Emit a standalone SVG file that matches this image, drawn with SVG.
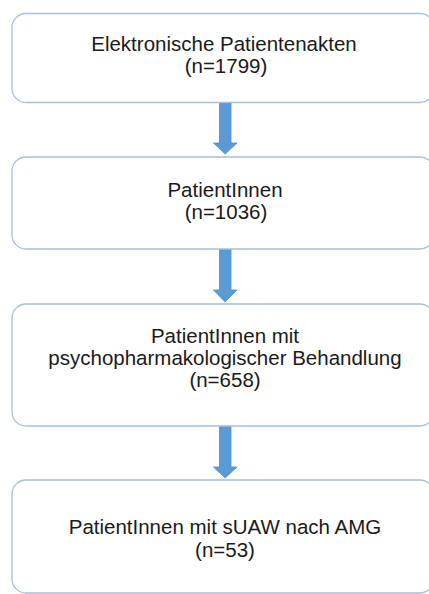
<svg xmlns="http://www.w3.org/2000/svg" width="429" height="594" viewBox="0 0 429 594">
<style>
.box{fill:#ffffff;stroke:#a7bfdc;stroke-width:1.3}
.t{font-family:"Liberation Sans",Arial,sans-serif;font-size:20.5px;fill:#1a1a1a;text-anchor:middle}
.arr{fill:#5b9bd5;stroke:#4f8cc6;stroke-width:0.8}
</style>
<rect width="429" height="594" fill="#ffffff"/>
<g id="connectors">
<path class="arr" d="M219.5 103 H231 V143 H237 L225.2 154 L213.5 143 H219.5 Z"/>
<path class="arr" d="M219.5 249 H231 V290 H237 L225.2 302 L213.5 290 H219.5 Z"/>
<path class="arr" d="M219.5 426 H231 V467 H237 L225.2 478 L213.5 467 H219.5 Z"/>
</g>
<g id="n1">
<rect class="box" x="12" y="13.5" width="422" height="89" rx="14"/>
<text class="t" x="224" y="51">Elektronische Patientenakten</text>
<text class="t" x="226" y="73">(n=1799)</text>
</g>
<g id="n2">
<rect class="box" x="12" y="157" width="422" height="92" rx="14"/>
<text class="t" x="225" y="197">PatientInnen</text>
<text class="t" x="226" y="219">(n=1036)</text>
</g>
<g id="n3">
<rect class="box" x="12" y="304" width="422" height="122" rx="14"/>
<text class="t" x="225" y="343">PatientInnen mit</text>
<text class="t" x="225" y="365">psychopharmakologischer Behandlung</text>
<text class="t" x="225" y="387">(n=658)</text>
</g>
<g id="n4">
<rect class="box" x="12" y="480" width="422" height="113" rx="14"/>
<text class="t" x="225" y="534">PatientInnen mit sUAW nach AMG</text>
<text class="t" x="225" y="557">(n=53)</text>
</g>
</svg>
